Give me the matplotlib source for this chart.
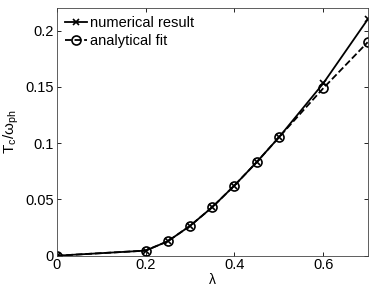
import matplotlib
matplotlib.use("Agg")
import matplotlib.pyplot as plt

lam = [0, 0.2, 0.25, 0.3, 0.35, 0.4, 0.45, 0.5, 0.6, 0.7]
numerical = [0, 0.0045, 0.0128, 0.0264, 0.043, 0.0623, 0.083, 0.105, 0.153, 0.2098]
fit = [0, 0.0045, 0.0128, 0.0264, 0.043, 0.0623, 0.083, 0.105, 0.1487, 0.1896]

plt.rcParams['font.family'] = ['Liberation Sans', 'DejaVu Sans']
plt.rcParams['mathtext.fontset'] = 'custom'
plt.rcParams['mathtext.rm'] = 'Liberation Sans'
plt.rcParams['mathtext.it'] = 'Liberation Sans'

fs = 10.5
fig = plt.figure(figsize=(3.74, 2.90), dpi=100)
ax = fig.add_axes([0.1516, 0.1183, 0.8314, 0.8541])
ax.plot(lam, numerical, '-', color='black', marker='x', ms=5, mew=1.2, lw=1.3,
        label='numerical result')
ax.plot(lam, fit, '--', color='black', marker='o', ms=6.5, mfc='none', mew=1.2, lw=1.3,
        label='analytical fit')
ax.set_xlim(0, 0.7)
ax.set_ylim(0, 0.22)
ax.set_xticks([0, 0.2, 0.4, 0.6])
ax.set_xticklabels(['0', '0.2', '0.4', '0.6'])
ax.set_yticks([0, 0.05, 0.1, 0.15, 0.2])
ax.set_yticklabels(['0', '0.05', '0.1', '0.15', '0.2'])
ax.tick_params(direction='in', top=True, right=True, labelsize=fs, length=3, width=0.6, pad=2)
for s in ax.spines.values():
    s.set_linewidth(0.6)
    s.set_color('#444444')
ax.set_xlabel('λ', fontsize=10, labelpad=0.5)
ax.set_ylabel(r'T$_\mathrm{c}$/ω$_\mathrm{ph}$', fontsize=fs + 0.5, labelpad=3)
ax.legend(loc='upper left', frameon=False, fontsize=fs, handlelength=1.5,
          handletextpad=0.2, borderpad=0.25, labelspacing=0.3, borderaxespad=0.3)
fig.savefig('out.png', dpi=100)
